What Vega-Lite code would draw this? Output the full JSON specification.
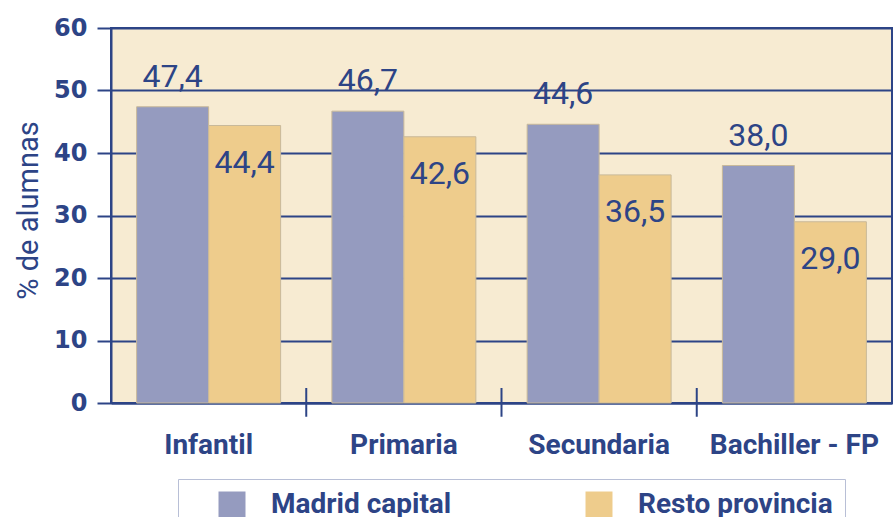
{
  "$schema": "https://vega.github.io/schema/vega-lite/v6.json",
  "autosize": {"type": "none"},
  "padding": {"left": 111, "top": 28, "right": 3, "bottom": 114},
  "width": 781,
  "height": 375,
  "background": "white",
  "config": {
    "locale": {"number": {"decimal": ",", "thousands": ".", "grouping": [3], "currency": ["", " €"]}},
    "view": {"fill": "#f7ebd2", "stroke": "#2d4486", "strokeWidth": 2},
    "font": "Roboto"
  },
  "data": {
    "values": [
      {"nivel": "Infantil", "zona": "Madrid capital", "valor": 47.4},
      {"nivel": "Infantil", "zona": "Resto provincia", "valor": 44.4},
      {"nivel": "Primaria", "zona": "Madrid capital", "valor": 46.7},
      {"nivel": "Primaria", "zona": "Resto provincia", "valor": 42.6},
      {"nivel": "Secundaria", "zona": "Madrid capital", "valor": 44.6},
      {"nivel": "Secundaria", "zona": "Resto provincia", "valor": 36.5},
      {"nivel": "Bachiller - FP", "zona": "Madrid capital", "valor": 38.0},
      {"nivel": "Bachiller - FP", "zona": "Resto provincia", "valor": 29.0}
    ]
  },
  "encoding": {
    "x": {
      "field": "nivel", "type": "nominal",
      "sort": ["Infantil", "Primaria", "Secundaria", "Bachiller - FP"],
      "scale": {"paddingInner": 0, "paddingOuter": 0},
      "axis": {
        "title": null, "labelAngle": 0, "ticks": false, "labelPadding": 28, "labelLimit": 400,
        "labelFont": "Roboto", "labelFontSize": 28, "labelFontWeight": "bold",
        "labelColor": "#2d4486", "domainColor": "#2d4486", "domainWidth": 2, "grid": false
      }
    }
  },
  "layer": [
    {
      "mark": {"type": "bar", "stroke": "#c8b99a", "strokeWidth": 1},
      "encoding": {
        "xOffset": {"field": "zona", "type": "nominal", "sort": ["Madrid capital", "Resto provincia"],
          "scale": {"paddingOuter": 0.356, "paddingInner": 0}},
        "y": {
          "field": "valor", "type": "quantitative",
          "scale": {"domain": [0, 60], "nice": false},
          "axis": {
            "values": [0, 10, 20, 30, 40, 50, 60],
            "title": "% de alumnas", "titleFont": "Roboto", "titleFontSize": 29,
            "titleFontWeight": "normal", "titleColor": "#2d4486",
            "titleX": -74, "titleY": 182, "titleAngle": -90, "titleBaseline": "alphabetic", "titleAlign": "center",
            "labelFont": "DejaVu Sans", "labelFontSize": 24, "labelFontWeight": "bold", "labelColor": "#2d4486",
            "labelPadding": 10, "tickSize": 14, "tickColor": "#2d4486", "tickWidth": 2,
            "domainColor": "#2d4486", "domainWidth": 2,
            "grid": true, "gridColor": "#2d4486", "gridWidth": 2, "gridOpacity": 1
          }
        },
        "color": {
          "field": "zona", "type": "nominal",
          "scale": {"domain": ["Madrid capital", "Resto provincia"], "range": ["#959bbf", "#eecc8c"]},
          "legend": {
            "orient": "none", "legendX": 67, "legendY": 451, "direction": "horizontal", "columns": 2,
            "title": null, "fillColor": "white", "strokeColor": "#b8bfd6", "padding": 12,
            "symbolType": "square", "symbolSize": 729, "symbolOffset": 28, "labelOffset": 25,
            "columnPadding": 105, "labelFont": "Roboto", "labelFontSize": 28,
            "labelFontWeight": "bold", "labelColor": "#2d4486", "symbolStrokeWidth": 0,
            "labelLimit": 400, "symbolOpacity": 1
          }
        }
      }
    },
    {
      "transform": [{"filter": "datum.zona === 'Madrid capital'"}],
      "mark": {"type": "text", "baseline": "alphabetic", "align": "center", "dy": -20,
        "font": "Roboto", "fontSize": 32, "color": "#2d4486"},
      "encoding": {
        "xOffset": {"field": "zona", "type": "nominal", "sort": ["Madrid capital", "Resto provincia"]},
        "y": {"field": "valor", "type": "quantitative"},
        "text": {"field": "valor", "type": "quantitative", "format": ".1f"}
      }
    },
    {
      "transform": [{"filter": "datum.zona === 'Resto provincia'"}],
      "mark": {"type": "text", "baseline": "top", "align": "center", "dy": 22,
        "font": "Roboto", "fontSize": 32, "color": "#2d4486"},
      "encoding": {
        "xOffset": {"field": "zona", "type": "nominal", "sort": ["Madrid capital", "Resto provincia"]},
        "y": {"field": "valor", "type": "quantitative"},
        "text": {"field": "valor", "type": "quantitative", "format": ".1f"}
      }
    },
    {
      "transform": [{"filter": "datum.zona === 'Madrid capital' && datum.nivel !== 'Infantil'"}],
      "mark": {"type": "rule", "color": "#2d4486", "strokeWidth": 2},
      "encoding": {
        "x": {"field": "nivel", "type": "nominal", "bandPosition": 0,
          "sort": ["Infantil", "Primaria", "Secundaria", "Bachiller - FP"]},
        "y": {"datum": -2.2},
        "y2": {"datum": 2.4}
      }
    }
  ]
}
